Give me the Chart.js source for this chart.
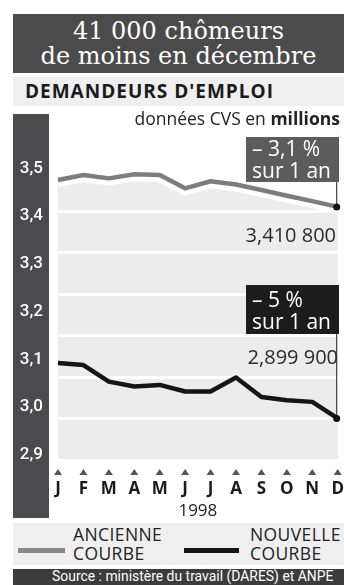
<!DOCTYPE html>
<html><head><meta charset="utf-8">
<script src="https://cdn.jsdelivr.net/npm/chart.js@4/dist/chart.umd.min.js"></script>
<style>
html,body{margin:0;padding:0;background:#fff;width:344px;height:585px;overflow:hidden;font-family:"Open Sans",sans-serif;}
.abs{position:absolute;}
#title{left:13px;top:14px;width:331px;height:59px;background:#4b4b4b;color:#fff;font-family:"DejaVu Serif",serif;font-size:24px;line-height:25px;text-align:center;box-sizing:border-box;padding-top:5px;}
#sub{left:13px;top:77px;width:331px;height:29px;background:#efefef;color:#1a1a1a;font-weight:700;font-size:19px;letter-spacing:1px;line-height:29px;padding-left:12px;box-sizing:border-box;white-space:nowrap;}
#col{left:13px;top:114px;width:36px;height:404px;background:#4b4b4d;}
#unit{right:4px;top:106px;font-size:17.5px;color:#222;white-space:nowrap;}
.box{color:#fff;font-size:21px;line-height:22px;padding-left:6px;box-sizing:border-box;white-space:nowrap;}
#b1{left:246px;top:137px;width:93px;height:45px;background:#5c5c5c;padding-top:0px;}
#b2{left:246px;top:285px;width:93px;height:49px;background:#1c1c1c;padding-top:3px;}
.val{font-size:20px;color:#2a2a2a;white-space:nowrap;}
#v1{right:8px;top:221px;}
#v2{right:6px;top:343px;}
#leg{left:13px;top:523px;width:331px;height:42px;background:#efefef;}
.ls{height:5px;top:25px;}
.lt{font-size:17.5px;letter-spacing:0.4px;line-height:19px;color:#222;top:2px;white-space:nowrap;}
#src{left:13px;top:569px;width:331px;height:16px;background:#3c3c3c;color:#fff;font-family:"Roboto",sans-serif;font-size:14.5px;line-height:16px;white-space:nowrap;overflow:hidden;}
#src span{position:absolute;left:39px;top:0;display:inline-block;transform:scaleX(0.96);transform-origin:0 50%;}
canvas{position:absolute;left:0;top:0;}
</style></head>
<body>
<div id="title" class="abs">41 000 chômeurs<br>de moins en décembre</div>
<div id="sub" class="abs">DEMANDEURS D'EMPLOI</div>
<div id="col" class="abs"></div>
<div id="leg" class="abs">
  <div class="abs ls" style="left:5px;width:47px;background:#888;"></div>
  <div class="abs lt" style="left:60px;">ANCIENNE<br>COURBE</div>
  <div class="abs ls" style="left:171px;width:55px;background:#151515;"></div>
  <div class="abs lt" style="left:237px;">NOUVELLE<br>COURBE</div>
</div>
<div id="src" class="abs"><span>Source : ministère du travail (DARES) et ANPE</span></div>
<canvas id="c" width="344" height="585"></canvas>
<div id="unit" class="abs">données CVS en <b>millions</b></div>
<div id="b1" class="abs box">–&nbsp;3,1&nbsp;%<br>sur 1 an</div>
<div id="b2" class="abs box">–&nbsp;5&nbsp;%<br>sur 1 an</div>
<div id="v1" class="abs val">3,410 800</div>
<div id="v2" class="abs val">2,899 900</div>
<script>
const months = ['J','F','M','A','M','J','J','A','S','O','N','D'];
const ancienne = [3.476, 3.488, 3.480, 3.490, 3.488, 3.456, 3.473, 3.465, 3.452, 3.438, 3.425, 3.411];
const nouvelle = [3.034, 3.029, 2.989, 2.977, 2.981, 2.965, 2.965, 2.999, 2.952, 2.944, 2.940, 2.900];
const yTickValues = [2.9, 3.0, 3.1, 3.2, 3.3, 3.4, 3.5];
const yTickLabels = ['2,9', '3,0', '3,1', '3,2', '3,3', '3,4', '3,5'];
const yearLabel = '1998';

const bgPlugin = {
  id: 'bg',
  beforeDraw(chart) {
    const {ctx, chartArea: a} = chart;
    ctx.save();
    ctx.fillStyle = '#ececec';
    ctx.fillRect(a.left, a.top, a.right - a.left, a.bottom - a.top);
    ctx.restore();
  },
  afterDatasetsDraw(chart) {
    const {ctx} = chart;
    const p0 = chart.getDatasetMeta(1).data[months.length - 1];
    const p1 = chart.getDatasetMeta(2).data[months.length - 1];
    ctx.save();
    ctx.strokeStyle = '#222';
    ctx.lineWidth = 1;
    ctx.beginPath();
    ctx.moveTo(p0.x - 1, 182); ctx.lineTo(p0.x - 1, p0.y);
    ctx.moveTo(p1.x - 1, 334); ctx.lineTo(p1.x - 1, p1.y);
    ctx.stroke();
    ctx.fillStyle = '#111';
    [p0, p1].forEach(p => { ctx.beginPath(); ctx.arc(p.x - 1, p.y, 3.5, 0, Math.PI * 2); ctx.fill(); });
    ctx.restore();
  },
  afterDraw(chart) {
    const {ctx} = chart;
    const xs = chart.scales.x;
    ctx.save();
    ctx.fillStyle = '#555';
    months.forEach((m, i) => {
      const x = xs.getPixelForValue(i);
      ctx.beginPath();
      ctx.moveTo(x - 4, 475); ctx.lineTo(x + 4, 475); ctx.lineTo(x, 469); ctx.closePath();
      ctx.fill();
    });
    ctx.restore();
  }
};

new Chart(document.getElementById('c'), {
  type: 'line',
  data: {
    labels: months,
    datasets: [
      { label: 'masque', data: ancienne, fill: 'end', backgroundColor: '#ffffff', borderColor: '#ffffff', borderWidth: 14, pointRadius: 0, order: 3, tension: 0 },
      { label: 'ANCIENNE COURBE', data: ancienne, fill: false, borderColor: '#7d7d7d', borderWidth: 4.5, pointRadius: 0, order: 2, tension: 0, borderJoinStyle: 'round' },
      { label: 'NOUVELLE COURBE', data: nouvelle, fill: false, borderColor: '#151515', borderWidth: 4.5, pointRadius: 0, order: 1, tension: 0, borderJoinStyle: 'round' }
    ]
  },
  options: {
    responsive: false,
    animation: false,
    devicePixelRatio: 1,
    layout: { padding: { top: 120, right: 4, left: 0, bottom: 64 } },
    plugins: { legend: { display: false }, tooltip: { enabled: false } },
    scales: {
      x: {
        type: 'category',
        offset: false,
        grid: { display: false, drawTicks: false },
        border: { display: false },
        afterFit: s => { s.height = 62; },
        ticks: {
          color: '#1a1a1a', font: { family: 'Open Sans', size: 17, weight: '700' }, padding: 0, maxRotation: 0, minRotation: 0, autoSkip: false,
          callback: (v, i) => ['', months[i]]
        },
        title: { display: true, text: yearLabel, color: '#222', font: { family: 'Open Sans', size: 17 }, padding: { top: 0, bottom: 0 } }
      },
      y: {
        position: 'right',
        min: 2.802, max: 3.621,
        afterBuildTicks: s => { s.ticks = [2.9, 3.0, 3.1, 3.2, 3.3, 3.4, 3.5].map(v => ({ value: v })); },
        afterFit: s => { s.width = 0; },
        grid: { color: '#ffffff', lineWidth: 3, drawTicks: false },
        border: { display: false },
        ticks: { display: false }
      },
      yl: {
        position: 'left',
        min: 2.8916, max: 3.601,
        afterBuildTicks: s => { s.ticks = yTickValues.map(v => ({ value: v })); },
        afterFit: s => { s.width = 58; },
        grid: { display: false, drawTicks: false },
        border: { display: false },
        ticks: {
          color: '#ffffff', padding: 15,
          font: { family: 'Roboto', size: 17, weight: '500' },
          callback: (v) => yTickLabels[yTickValues.findIndex(t => Math.abs(t - v) < 1e-6)]
        }
      }
    }
  },
  plugins: [bgPlugin]
});
</script>
</body></html>
